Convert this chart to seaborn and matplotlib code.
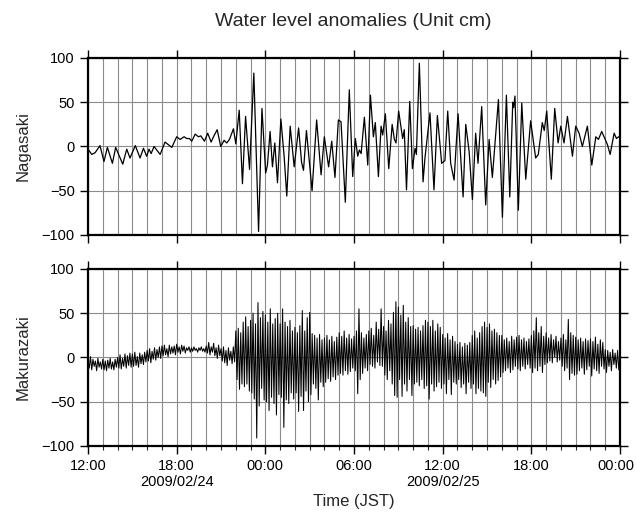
import numpy as np
import pandas as pd
import seaborn as sns
import matplotlib.pyplot as plt
from matplotlib.transforms import ScaledTranslation

start = pd.Timestamp('2009-02-24 12:00')
end = pd.Timestamp('2009-02-26 00:00')

# Nagasaki: hours after 12:00 JST and level (cm), read at peaks/troughs
nagasaki_hours = [
    0.0, 0.25, 0.48, 0.81, 1.08, 1.31, 1.65, 1.87, 2.35, 2.62, 2.84, 3.20,
    3.52, 3.75, 3.97, 4.13, 4.27, 4.47, 4.88, 5.21, 5.44, 5.67, 6.00, 6.23,
    6.50, 6.68, 6.86, 7.02, 7.25, 7.47, 7.63, 7.88, 8.10, 8.33, 8.49, 8.74,
    8.98, 9.21, 9.39, 9.57, 9.84, 10.00, 10.23, 10.45, 10.66, 10.93, 11.22, 11.54,
    11.77, 12.02, 12.14, 12.32, 12.48, 12.64, 12.82, 13.05, 13.27, 13.45, 13.68, 13.95,
    14.25, 14.45, 14.58, 14.78, 15.16, 15.47, 15.77, 15.99, 16.28, 16.49, 16.71, 16.94,
    17.12, 17.41, 17.68, 17.91, 18.09, 18.25, 18.36, 18.48, 18.70, 18.93, 19.11, 19.31,
    19.44, 19.65, 19.83, 19.94, 20.12, 20.35, 20.58, 20.73, 20.84, 21.02, 21.29, 21.40,
    21.55, 21.77, 21.95, 22.13, 22.22, 22.42, 22.67, 22.80, 23.14, 23.41, 23.64, 23.93,
    24.15, 24.34, 24.54, 24.77, 25.04, 25.38, 25.56, 25.79, 26.01, 26.23, 26.39, 26.64,
    26.91, 27.14, 27.36, 27.77, 28.04, 28.31, 28.54, 28.74, 28.80, 28.89, 29.12, 29.35,
    29.62, 29.95, 30.29, 30.47, 30.74, 30.87, 31.04, 31.35, 31.58, 31.81, 31.99, 32.21,
    32.44, 32.78, 33.00, 33.23, 33.45, 33.79, 34.09, 34.36, 34.54, 34.76, 34.99, 35.15,
    35.33, 35.60, 35.76, 35.90, 36.00,
]
nagasaki_cm = [
    -3, -9, -7, 1, -17, -1, -19, -1, -20, -3, -13, 1,
    -13, -2, -11, -3, -8, 0, -9, 5, 2, -1, 11, 8,
    11, 9, 9, 6, 14, 11, 12, 6, 15, 5, 11, 19,
    0, 7, 4, 8, 20, 3, 41, -42, 34, -26, 83, -96,
    43, -30, -21, 17, -23, 4, -41, 31, -11, -56, 23, -23,
    21, -18, -27, 18, -50, 30, -32, 11, -23, 6, -35, 30,
    28, -63, 64, -34, 9, -11, -4, -8, 33, -21, 58, 11,
    27, -34, 23, 13, 37, -25, 25, 8, 4, 40, 9, 19,
    -49, 51, -25, -2, -9, 94, -40, -13, 38, -49, 35, -19,
    -16, 40, -19, -38, 37, -57, 25, -6, -60, 15, -19, 45,
    -66, 8, -35, 53, -80, 58, -57, 50, 44, 57, -72, 49,
    -37, 29, -13, -9, 27, 18, 40, -37, 43, 4, 23, 4,
    34, -11, 23, 15, 0, 23, -21, 11, 8, 17, 8, 2,
    -9, 15, 9, 11, 10,
]

# Makurazaki: level (cm) every 5 minutes, one row per hour
makurazaki_cm = [
    -3, -12, 1, -14, -2, -10, -4, -15, -1, -11, -5, -13,
    -2, -14, -4, -15, -3, -12, -1, -13, -5, -14, -2, -11,
    0, -12, 3, -13, -1, -10, 4, -12, 2, -9, 5, -11,
    4, -10, 6, -9, 1, -11, 5, -7, 3, -8, 6, -5,
    8, -4, 10, -6, 7, -2, 11, -3, 9, 0, 12, -1,
    13, 2, 14, 3, 10, 1, 14, 4, 12, 5, 13, 3,
    15, 6, 12, 4, 14, 7, 13, 5, 11, 8, 12, 6,
    11, 7, 12, 8, 10, 6, 11, 8, 12, 7, 10, 6,
    13, 5, 17, 3, 12, 6, 16, 2, 11, -1, 14, 2,
    10, -4, 12, -6, 8, -9, 11, -3, 7, -7, 12, -5,
    30, -25, 33, -36, 28, -30, 40, -33, 46, -30, 35, -38,
    42, -40, 50, -47, 38, -91, 62, -55, 45, -35, 52, -48,
    48, -50, 40, -60, 55, -45, 38, -52, 44, -65, 50, -42,
    38, -45, 55, -79, 40, -48, 35, -52, 42, -40, 30, -47,
    34, -40, 28, -61, 36, -44, 53, -60, 30, -38, 45, -50,
    51, -42, 27, -30, 25, -35, 22, -48, 26, -28, 20, -33,
    22, -28, 25, -24, 20, -27, 24, -22, 18, -25, 23, -20,
    28, -18, 24, -20, 30, -15, 22, -19, 26, -16, 21, -12,
    24, -15, 30, -41, 55, -25, 28, -18, 22, -12, 26, -15,
    30, -8, 33, -10, 25, -12, 40, -5, 32, -9, 55, -10,
    35, -20, 30, -25, 42, -15, 38, -30, 51, -43, 63, -45,
    57, -25, 48, -44, 59, -30, 40, -38, 45, -25, 35, -43,
    36, -30, 32, -28, 34, -32, 30, -25, 36, -35, 42, -32,
    40, -47, 35, -30, 42, -38, 30, -33, 38, -28, 34, -35,
    26, -30, 22, -41, 27, -25, 20, -42, 24, -28, 18, -30,
    15, -25, 17, -34, 12, -30, 16, -41, 14, -28, 17, -35,
    25, -30, 30, -41, 22, -35, 28, -38, 35, -40, 40, -44,
    34, -28, 38, -34, 30, -25, 32, -30, 28, -26, 25, -22,
    25, -17, 20, -15, 22, -12, 18, -17, 24, -14, 20, -10,
    23, -13, 25, -15, 20, -10, 22, -13, 18, -8, 21, -12,
    25, -17, 30, -12, 45, -15, 28, -10, 35, -17, 24, -8,
    28, -6, 22, -4, 26, -6, 20, 0, 24, -5, 18, -3,
    22, -10, 26, -15, 20, -12, 43, -25, 28, -18, 25, -20,
    23, -19, 20, -15, 22, -12, 18, -19, 21, -14, 19, -10,
    21, -21, 18, -13, 23, -15, 15, -18, 20, -10, 17, -13,
    9, -17, 8, -10, 6, -15, 9, -8, 5, -12, 8, -14,
    -10,
]

stations = ['Nagasaki', 'Makurazaki']
y_ticks = [-100, -50, 0, 50, 100]
x_tick_labels = ['12:00', '18:00\n2009/02/24', '00:00', '06:00',
                 '12:00\n2009/02/25', '18:00', '00:00']

df_n = pd.DataFrame({'time': start + pd.to_timedelta(nagasaki_hours, unit='h'),
                     'level': nagasaki_cm})
df_m = pd.DataFrame({'time': pd.date_range(start, periods=len(makurazaki_cm), freq='5min'),
                     'level': makurazaki_cm})

sns.set_style('ticks')
plt.rcParams['font.family'] = ['Liberation Sans', 'DejaVu Sans']

fig = plt.figure(figsize=(6.36, 5.16), dpi=100)
ax1 = fig.add_axes([0.1384, 0.5446, 0.8365, 0.343])
ax2 = fig.add_axes([0.1384, 0.1357, 0.8365, 0.343])

major = pd.date_range(start, end, freq='6h')
minor = pd.date_range(start, end, freq='1h')

for ax, df, name, lw in zip([ax1, ax2], [df_n, df_m], stations, [0.9, 0.75]):
    sns.lineplot(data=df, x='time', y='level', ax=ax, color='black',
                 lw=lw, estimator=None, zorder=3)
    ax.lines[-1].set_solid_joinstyle('round')
    ax.set_xlim(start, end)
    ax.set_ylim(-100, 100)
    ax.set_yticks(y_ticks)
    ax.set_xticks(major)
    ax.set_xticks(minor, minor=True)
    ax.grid(which='both', axis='x', color='#8c8c8c', lw=0.8)
    ax.grid(which='major', axis='y', color='#8c8c8c', lw=0.8)
    for s in ax.spines.values():
        s.set_linewidth(1.6)
        s.set_color('black')
    ax.tick_params(which='major', direction='out', length=6, width=1.0,
                   top=True, right=True, labelsize=10.5, colors='black')
    ax.tick_params(which='minor', direction='out', length=3, width=0.8,
                   top=False, bottom=(ax is ax2))
    ax.set_ylabel(name, fontsize=12, labelpad=8)
    ax.set_xlabel('')

ax1.set_xticklabels([])
ax2.set_xticklabels(x_tick_labels, fontsize=10.5, linespacing=1.15)
last = ax2.get_xticklabels()[-1]
last.set_transform(last.get_transform() + ScaledTranslation(-3 / 72, 0, fig.dpi_scale_trans))
ax2.set_xlabel('Time (JST)', fontsize=12, labelpad=4)

fig.suptitle('Water level anomalies (Unit cm)', fontsize=14, x=0.556, y=0.975)

plt.savefig('out.png', dpi=100)
